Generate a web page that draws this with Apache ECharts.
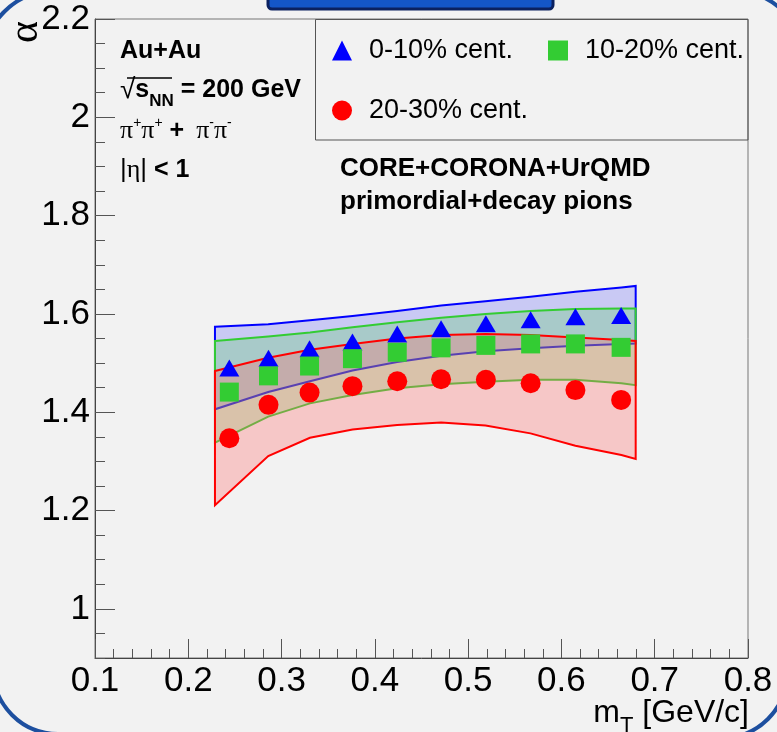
<!DOCTYPE html>
<html>
<head>
<meta charset="utf-8">
<script src="https://cdn.jsdelivr.net/npm/echarts@6/dist/echarts.min.js"></script>
<style>
  html, body { margin: 0; padding: 0; background: #f2f2f2; }
  #chart { width: 777px; height: 732px; }
</style>
</head>
<body>
<div id="chart"></div>
<script>
// m_T bin centres shared by the three centrality classes
const mT = [0.244, 0.286, 0.330, 0.376, 0.424, 0.471, 0.519, 0.567, 0.615, 0.664];
const alpha0to10 = [1.490, 1.510, 1.529, 1.543, 1.559, 1.570, 1.580, 1.588, 1.594, 1.597];
const alpha10to20 = [1.441, 1.474, 1.494, 1.509, 1.522, 1.531, 1.536, 1.539, 1.539, 1.532];
const alpha20to30 = [1.347, 1.415, 1.440, 1.453, 1.463, 1.467, 1.466, 1.459, 1.445, 1.425];

// CORE+CORONA+UrQMD model bands (upper / lower edges)
const bandX = [0.2286, 0.2857, 0.3304, 0.3761, 0.4239, 0.4711, 0.5186, 0.5668, 0.6150, 0.6643, 0.6796];
const band0to10Upper = [1.574, 1.579, 1.587, 1.596, 1.606, 1.617, 1.626, 1.635, 1.645, 1.654, 1.657];
const band0to10Lower = [1.406, 1.441, 1.463, 1.485, 1.502, 1.515, 1.524, 1.530, 1.535, 1.539, 1.540];
const band10to20Upper = [1.545, 1.554, 1.562, 1.573, 1.583, 1.592, 1.600, 1.606, 1.610, 1.611, 1.611];
const band10to20Lower = [1.338, 1.391, 1.418, 1.435, 1.449, 1.457, 1.462, 1.466, 1.466, 1.459, 1.455];
const band20to30Upper = [1.484, 1.511, 1.527, 1.539, 1.550, 1.557, 1.559, 1.557, 1.552, 1.547, 1.545];
const band20to30Lower = [1.211, 1.311, 1.348, 1.365, 1.374, 1.379, 1.373, 1.357, 1.332, 1.313, 1.305];

const yLabelValues = [1, 1.2, 1.4, 1.6, 1.8, 2, 2.2];
const seriesNames = ['0-10% cent.', '10-20% cent.', '20-30% cent.'];

const SANS = '"Liberation Sans", Arial, Helvetica, sans-serif';
const SERIF = '"Liberation Serif", "Times New Roman", serif';

// closed polygon band: upper edge left->right, lower edge right->left
function bandSeries(upper, lower, stroke, fill) {
  const data = bandX.map((x, i) => [x, upper[i], lower[i]]);
  return {
    type: 'custom',
    data: data,
    silent: true,
    animation: false,
    encode: { x: 0, y: [1, 2] },
    renderItem: function (params, api) {
      if (params.dataIndex !== 0) return null;
      const n = data.length;
      const pts = [];
      for (let i = 0; i < n; i++) pts.push(api.coord([api.value(0, i), api.value(1, i)]));
      for (let i = n - 1; i >= 0; i--) pts.push(api.coord([api.value(0, i), api.value(2, i)]));
      return {
        type: 'polygon',
        shape: { points: pts },
        style: { fill: fill, stroke: stroke, lineWidth: 2 }
      };
    }
  };
}

function scatterSeries(name, values, symbol, size, color) {
  return {
    type: 'scatter',
    name: name,
    data: mT.map((x, i) => [x, values[i]]),
    symbol: symbol,
    symbolSize: size,
    itemStyle: { color: color, opacity: 1 },
    emphasis: { disabled: true },
    animation: false
  };
}

// one legend entry, placed by its icon's left edge and top
function legendEntry(name, left, top) {
  return {
    data: [name],
    left: left, top: top,
    orient: 'horizontal',
    padding: 0,
    itemWidth: 20, itemHeight: 20,
    selectedMode: false,
    textStyle: { fontSize: 27, color: '#000', fontFamily: SANS, lineHeight: 20, padding: [0, 0, 0, 12] }
  };
}

function cornerArc(cx, cy, r, a0, a1) {
  return {
    type: 'arc', silent: true,
    shape: { cx: cx, cy: cy, r: r, startAngle: a0, endAngle: a1, clockwise: true },
    style: { stroke: '#1d4f9f', lineWidth: 4, fill: null }
  };
}

function label(x, y, text, rich, extra) {
  return Object.assign({
    type: 'text', x: x, y: y, silent: true,
    style: {
      text: text, rich: rich,
      align: 'left', verticalAlign: 'middle',
      textAlign: 'left', textVerticalAlign: 'middle',
      fill: '#000'
    }
  }, extra || {});
}

const chart = echarts.init(document.getElementById('chart'), null, { renderer: 'canvas' });

chart.setOption({
  backgroundColor: '#f2f2f2',
  animation: false,
  grid: {
    left: 95, right: 29, top: 19, bottom: 74,
    containLabel: false, outerBoundsMode: 'none',
    show: true, borderColor: '#777', borderWidth: 1, backgroundColor: 'transparent'
  },
  xAxis: {
    type: 'value', min: 0.1, max: 0.8, interval: 0.1,
    axisLine: { show: true, onZero: false, lineStyle: { color: '#444', width: 1 } },
    axisTick: { show: true, inside: true, length: 19, lineStyle: { color: '#555' } },
    minorTick: { show: true, splitNumber: 5, length: 9, lineStyle: { color: '#555' } },
    splitLine: { show: false },
    minorSplitLine: { show: false },
    axisLabel: { fontSize: 35, color: '#000', fontFamily: SANS, margin: 6, showMinLabel: true, showMaxLabel: true, hideOverlap: false },
    name: '{m|m}{sub|T}{m| [GeV/c]}',
    nameLocation: 'end',
    nameGap: 1,
    nameMoveOverlap: false,
    nameTextStyle: {
      align: 'right', verticalAlign: 'top', padding: [39, 0, 0, 0],
      rich: {
        m: { fontSize: 32, fontFamily: SANS, color: '#000', lineHeight: 32 },
        sub: { fontSize: 22, fontFamily: SANS, color: '#000', lineHeight: 22, verticalAlign: 'bottom', padding: [0, 0, -8, 0] }
      }
    }
  },
  yAxis: [
    {
      type: 'value', min: 0.9, max: 2.2, interval: 0.05, position: 'left',
      axisLine: { show: true, onZero: false, lineStyle: { color: '#444', width: 1 } },
      axisTick: { show: true, inside: true, length: 10, lineStyle: { color: '#555' } },
      splitLine: { show: false },
      axisLabel: { customValues: yLabelValues, fontSize: 35, color: '#000', fontFamily: SANS, margin: 5, padding: [4, 0, 0, 0] }
    },
    {
      type: 'value', min: 0.9, max: 2.2, interval: 0.05, position: 'left',
      axisLine: { show: false },
      axisTick: { show: true, inside: true, length: 20, customValues: yLabelValues, lineStyle: { color: '#555' } },
      splitLine: { show: false },
      axisLabel: { show: false }
    }
  ],
  legend: [
    legendEntry(seriesNames[0], 332, 37),
    legendEntry(seriesNames[1], 548, 37),
    legendEntry(seriesNames[2], 332, 97)
  ],
  series: [
    bandSeries(band0to10Upper, band0to10Lower, '#0000ff', 'rgba(0,0,255,0.17)'),
    bandSeries(band10to20Upper, band10to20Lower, '#33cc33', 'rgba(50,205,50,0.22)'),
    bandSeries(band20to30Upper, band20to30Lower, '#ff0000', 'rgba(255,110,110,0.32)'),
    scatterSeries(seriesNames[0], alpha0to10, 'triangle', [20, 17], '#0000ff'),
    scatterSeries(seriesNames[1], alpha10to20, 'rect', [19, 19], '#33cc33'),
    scatterSeries(seriesNames[2], alpha20to30, 'circle', 20, '#ff0000')
  ],
  graphic: [
    // rounded frame corners of the panel
    cornerArc(54, 61, 70, Math.PI, Math.PI * 1.5),
    cornerArc(58, 669, 65, Math.PI * 0.5, Math.PI),
    cornerArc(722, 673, 65, 0, Math.PI * 0.5),
    cornerArc(734, 61, 70, Math.PI * 1.5, Math.PI * 2),
    // title tab at the top edge
    {
      type: 'rect', silent: true,
      shape: { x: 268, y: -10, width: 285, height: 19, r: 4 },
      style: { fill: '#1456c8', stroke: '#0b2160', lineWidth: 3 }
    },
    // legend frame
    {
      type: 'rect', silent: true,
      shape: { x: 315.5, y: 19.5, width: 432.5, height: 120.5 },
      style: { fill: null, stroke: '#555', lineWidth: 1 }
    },
    // y-axis title
    {
      type: 'text', x: 26, y: 32, rotation: Math.PI / 2, silent: true,
      style: {
        text: 'α', font: '42px ' + SERIF, fill: '#000',
        align: 'center', verticalAlign: 'middle', textAlign: 'center', textVerticalAlign: 'middle'
      }
    },
    label(120, 51, '{b|Au+Au}', { b: { fontSize: 25, fontWeight: 'bold', fontFamily: SANS } }),
    label(120, 90, '{rad|√}{s|s}{sub|NN}{b| = 200 GeV}', {
      rad: { fontSize: 28, fontFamily: SANS, lineHeight: 40 },
      s: { fontSize: 25, fontWeight: 'bold', fontFamily: SANS, lineHeight: 40 },
      sub: { fontSize: 17, fontWeight: 'bold', fontFamily: SANS, lineHeight: 17, verticalAlign: 'bottom' },
      b: { fontSize: 25, fontWeight: 'bold', fontFamily: SANS, lineHeight: 40 }
    }),
    {
      type: 'line', silent: true,
      shape: { x1: 127, y1: 78, x2: 172, y2: 78 },
      style: { stroke: '#000', lineWidth: 1.5 }
    },
    label(120, 131, '{p|π}{sup|+}{p|π}{sup|+}{b|+}{p|π}{sup|-}{p|π}{sup|-}', {
      p: { fontSize: 26, fontFamily: SERIF, lineHeight: 30 },
      sup: { fontSize: 14, fontFamily: SANS, lineHeight: 26, verticalAlign: 'top' },
      b: { fontSize: 25, fontWeight: 'bold', fontFamily: SANS, lineHeight: 30, padding: [0, 12, 0, 7] }
    }),
    label(120, 170, '{r||}{e|η}{r||}{b| < 1}', {
      r: { fontSize: 26, fontFamily: SANS, lineHeight: 30 },
      e: { fontSize: 26, fontFamily: SERIF, lineHeight: 30 },
      b: { fontSize: 25, fontWeight: 'bold', fontFamily: SANS, lineHeight: 30 }
    }),
    label(340, 169, '{b|CORE+CORONA+UrQMD}', { b: { fontSize: 26, fontWeight: 'bold', fontFamily: SANS } }),
    label(340, 202, '{b|primordial+decay pions}', { b: { fontSize: 26, fontWeight: 'bold', fontFamily: SANS } })
  ]
});
</script>
</body>
</html>
